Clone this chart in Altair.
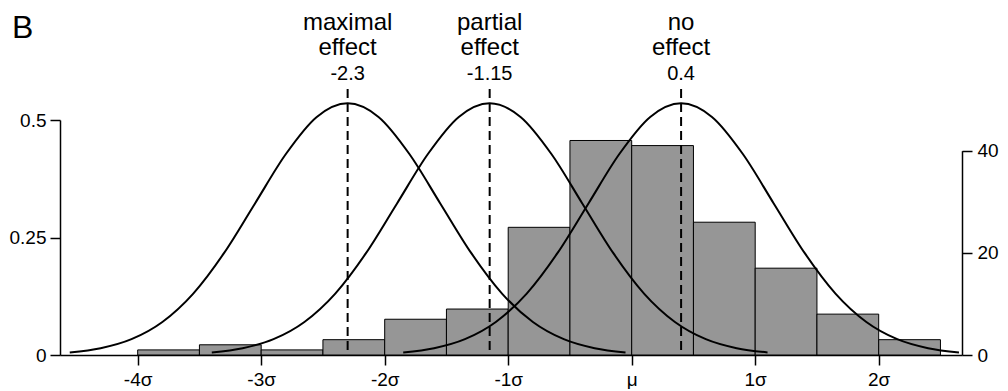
import altair as alt
import pandas as pd

# ---- data ----
bin_starts = [-4.0, -3.5, -3.0, -2.5, -2.0, -1.5, -1.0, -0.5, 0.0, 0.5, 1.0, 1.5, 2.0]
bin_width = 0.5
bin_counts = [1, 2, 1, 3, 7, 9, 25, 42, 41, 26, 17, 8, 3]

effect_centers = [-2.3, -1.15, 0.4]
effect_line1 = ["maximal", "partial", "no"]
effect_line2 = ["effect", "effect", "effect"]
effect_value_labels = ["-2.3", "-1.15", "0.4"]

# shape of each bell curve (offset from its centre, height on the left axis)
curve_offsets = [-2.25, -2.0, -1.75, -1.5, -1.25, -1.0, -0.75, -0.5, -0.25, 0.0,
                 0.25, 0.5, 0.75, 1.0, 1.25, 1.5, 1.75, 2.0, 2.25]
curve_density = [0.0055, 0.0145, 0.0337, 0.0703, 0.1307, 0.2172, 0.3225, 0.4276, 0.5065, 0.5355,
                 0.5065, 0.4276, 0.3225, 0.2172, 0.1307, 0.0703, 0.0337, 0.0145, 0.0055]

x_ticks = [-4, -3, -2, -1, 0, 1, 2]
left_ticks = [0, 0.25, 0.5]
right_ticks = [0, 20, 40]
panel_label = ["B"]

# ---- tables ----
df_bins = pd.DataFrame({
    "start": bin_starts,
    "end": [s + bin_width for s in bin_starts],
    "count": bin_counts,
    "zero": [0] * len(bin_starts),
})

rows = []
for c, name in zip(effect_centers, effect_line1):
    for o, d in zip(curve_offsets, curve_density):
        rows.append({"x": c + o, "density": d, "group": name})
df_curves = pd.DataFrame(rows)

df_eff = pd.DataFrame({
    "center": effect_centers,
    "line1": effect_line1,
    "line2": effect_line2,
    "val": effect_value_labels,
})

W, H = 902, 235
FONT = "Liberation Sans"
xscale = alt.Scale(domain=[-4.629, 2.6745], nice=False, zero=False)


def xaxis():
    return alt.Axis(values=x_ticks, labelExpr="datum.value == 0 ? 'μ' : datum.value + 'σ'",
                    labelPadding=5, labelFlush=False, labelOverlap=False, title=None)


bars = alt.Chart(df_bins).mark_rect(fill="#969696", stroke="black", strokeWidth=1).encode(
    x=alt.X("start:Q", scale=xscale, title=None, axis=xaxis()),
    x2="end:Q",
    y=alt.Y("count:Q", title=None,
            scale=alt.Scale(domain=[0, 40], range=[H, H - 204.3], nice=False),
            axis=alt.Axis(orient="right", values=right_ticks, labelExpr="'' + datum.value",
                          labelPadding=5, labelOverlap=False, title=None)),
    y2="zero:Q",
)

curves = alt.Chart(df_curves).mark_line(color="black", strokeWidth=2, interpolate="monotone").encode(
    x=alt.X("x:Q", scale=xscale, title=None, axis=xaxis()),
    y=alt.Y("density:Q", title=None, scale=alt.Scale(domain=[0, 0.5], nice=False),
            axis=alt.Axis(orient="left", values=left_ticks, labelExpr="'' + datum.value",
                          labelPadding=4, labelOverlap=False, title=None)),
    detail="group:N",
)

rules = alt.Chart(df_eff).mark_rule(color="black", strokeWidth=2, strokeDash=[9, 5]).encode(
    x=alt.X("center:Q", scale=xscale, title=None, axis=xaxis()),
    y=alt.value(-31),
    y2=alt.value(H),
)


def label_layer(field, size, ypix):
    return alt.Chart(df_eff).mark_text(font=FONT, fontSize=size, align="center",
                                       baseline="alphabetic", color="black").encode(
        x=alt.X("center:Q", scale=xscale, title=None, axis=xaxis()),
        y=alt.value(ypix),
        text=f"{field}:N",
    )


t1 = label_layer("line1", 24, -90)
t2 = label_layer("line2", 24, -65)
t3 = label_layer("val", 20, -40)

blabel = alt.Chart(pd.DataFrame({"label": panel_label})).mark_text(
    font=FONT, fontSize=32, align="left", baseline="alphabetic", color="black").encode(
    x=alt.value(-48), y=alt.value(-82), text="label:N")

chart = alt.layer(bars, curves, rules, t1, t2, t3, blabel).resolve_scale(
    y="independent"
).properties(
    width=W, height=H,
    padding={"left": 52, "top": 112, "right": 38, "bottom": 34},
    autosize=alt.AutoSizeParams(type="none"),
).configure_axis(
    domainColor="black", tickColor="black", labelColor="black",
    labelFont=FONT, labelFontSize=19, grid=False, tickSize=10,
    domainWidth=1.5, tickWidth=1.5,
).configure_view(stroke=None)

chart.save("out.html", embed_options={"renderer": "svg", "actions": False})
